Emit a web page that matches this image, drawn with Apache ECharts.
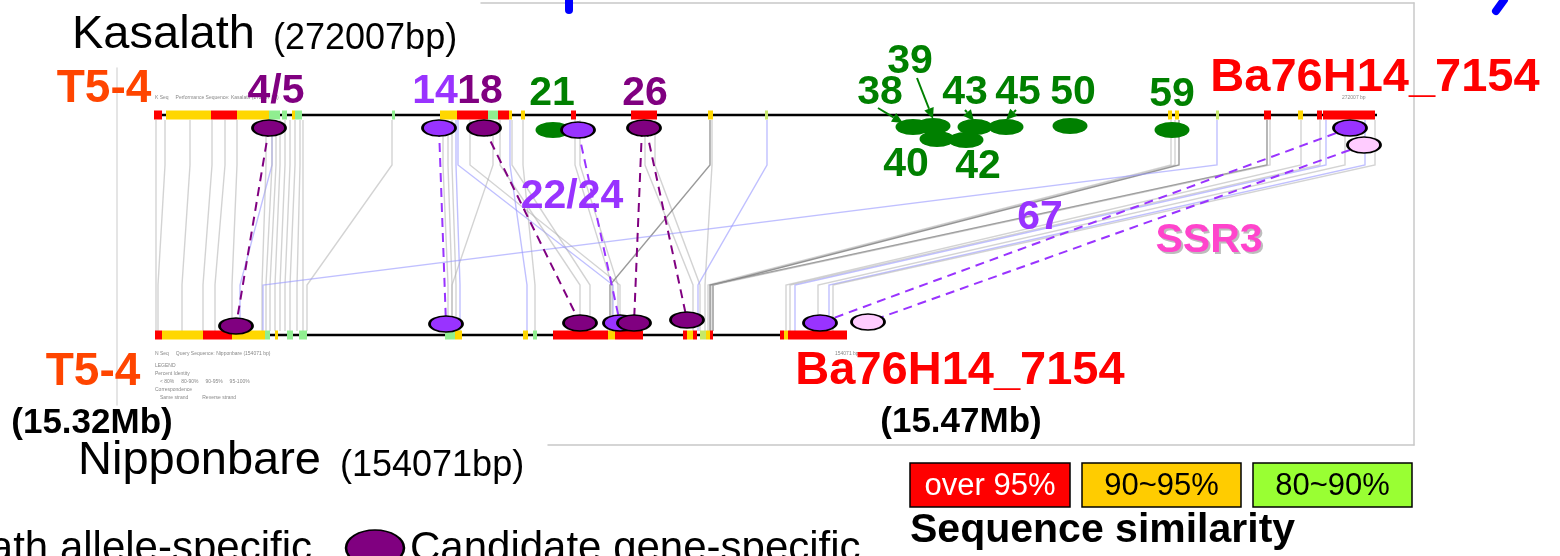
<!DOCTYPE html>
<html><head><meta charset="utf-8">
<script src="https://cdn.jsdelivr.net/npm/echarts@6/dist/echarts.min.js"></script>
<style>html,body{margin:0;padding:0;background:#fff}#c{width:1560px;height:556px}</style>
</head><body><div id="c"></div>
<script>
// ---------------- data (diagram positions along the sequences) ----------------
const trackSpans = [[154, 1377], [155, 847]];   // Kasalath (top), Nipponbare (bottom)
const trackRows = [115, 335];

// similarity blocks: [track, start, end, class]
const topSegments = [
  [0,154,162,'r'],[0,166,211,'y'],[0,211,237,'r'],[0,237,269,'y'],[0,269,280,'g'],[0,282,287,'g'],
  [0,292,295,'y'],[0,295,302,'g'],[0,392,395,'g'],[0,440,457,'y'],[0,457,488,'r'],[0,488,498,'g'],
  [0,498,509,'r'],[0,509,512,'y'],[0,521,525,'y'],[0,571,576,'r'],[0,631,657,'r'],[0,708,713,'y'],
  [0,765,768,'yg'],[0,1168,1172,'y'],[0,1175,1179,'y'],[0,1216,1219,'yg'],[0,1264,1271,'r'],
  [0,1298,1303,'y'],[0,1317,1322,'r'],[0,1323,1375,'r']
];
const bottomSegments = [
  [1,155,162,'r'],[1,162,203,'y'],[1,203,232,'r'],[1,232,265,'y'],[1,265,270,'g'],[1,275,278,'y'],
  [1,287,293,'g'],[1,299,307,'g'],[1,445,455,'g'],[1,455,462,'y'],[1,523,528,'y'],[1,533,537,'g'],
  [1,553,608,'r'],[1,608,615,'y'],[1,615,643,'r'],[1,683,687,'r'],[1,687,693,'y'],[1,693,697,'r'],
  [1,700,706,'yg'],[1,706,710,'y'],[1,710,713,'r'],[1,780,784,'r'],[1,784,788,'y'],[1,788,847,'r']
];

// correspondences: [position on Kasalath, position on Nipponbare, kind]
const alignments = [
  [156,156,'g'],[165,158,'g'],[190,182,'g'],[212,203,'g'],[225,215,'g'],[237,232,'g'],[272,240,'b'],
  [266,262,'g'],[272,266,'g'],[276,270,'g'],[280,275,'g'],[285,280,'g'],[290,285,'g'],[295,290,'g'],
  [300,297,'g'],[303,303,'g'],[392,307,'g'],[443,448,'g'],[448,452,'g'],[452,456,'g'],[456,460,'b'],
  [458,613,'b'],[470,620,'g'],[493,452,'g'],[500,580,'g'],[510,527,'b'],[523,535,'g'],[512,590,'g'],
  [575,612,'g'],[580,618,'g'],[645,693,'g'],[655,700,'g'],[710,610,'dg'],[712,705,'g'],[767,698,'b'],
  [1171,708,'g'],[1175,711,'g'],[1179,713,'dg'],[1217,263,'b'],[1267,710,'dg'],[1270,713,'g'],
  [1301,786,'g'],[1320,790,'g'],[1326,795,'b'],[1345,818,'g'],[1365,829,'b'],[1375,833,'g']
];

// markers: [position, row, type]
const topMarkers = [
  [269,128,'cand'],[439,128,'kas'],[484,128,'cand'],[553,130,'grn'],[578,130,'kas'],[644,128,'cand'],
  [913,127,'grn'],[933,126,'grn'],[937,139,'grn'],[966,140,'grn'],[975,127,'grn'],[1006,127,'grn'],
  [1070,126,'grn'],[1172,130,'grn'],[1350,128,'kas'],[1364,145,'ssr']
];
const bottomMarkers = [
  [236,326,'cand'],[446,324,'kas'],[580,323,'cand'],[620,323,'kas'],[634,323,'cand'],
  [687,320,'cand'],[820,323,'kas'],[868,322,'ssr']
];
const legendMarkers = [[375,548,'candBig']];

// marker links between the two sequences: [x1,y1,x2,y2,type]
const markerLinks = [
  [269,128,236,326,'cand'],[439,128,446,324,'kas'],[484,128,580,323,'cand'],[578,130,620,323,'kas'],
  [642,128,634,323,'cand'],[646,128,687,320,'cand'],[1350,128,820,323,'kas'],[1364,145,868,322,'kas']
];

const pointerArrows = [[878,108,903,123],[917,78,933,119],[965,110,974,121],[1016,110,1006,120]];

// texts: [text, x, y, style]
const labels = [
  ['Kasalath',72,35,'title'],['(272007bp)',273,39,'sub'],
  ['Nipponbare',78,461,'title'],['(154071bp)',340,466,'sub'],
  ['T5-4',104,89,'track'],['T5-4',93,372,'track'],
  ['Ba76H14_7154',1375,78,'clone'],['Ba76H14_7154',960,371,'clone'],
  ['(15.32Mb)',92,423,'mb'],['(15.47Mb)',961,422,'mb'],
  ['4/5',276,92,'cand'],['14',435,92,'kas'],['18',480,92,'cand'],['21',552,94,'grn'],['26',645,94,'cand'],
  ['38',880,93,'grn'],['39',910,62,'grn'],['43',965,93,'grn'],['45',1018,93,'grn'],['50',1073,93,'grn'],
  ['59',1172,95,'grn'],['40',906,165,'grn'],['42',978,167,'grn'],
  ['22/24',572,197,'kas'],['67',1040,218,'kas'],['SSR3',1209,241,'ssr'],
  ['Kasalath allele-specific',312,549,'legR'],['Candidate gene-specific',410,549,'leg'],
  ['Sequence similarity',910,531,'legB']
];
const tinyTexts = [
  ['K Seq     Performance Sequence: Kasalath (272007 bp)',155,98],['272007 bp',1342,98],
  ['N Seq     Query Sequence: Nipponbare (154071 bp)',155,354],['154071 bp',835,354],
  ['LEGEND',155,366],['Percent Identity',155,374],['< 80%     80-90%     90-95%     95-100%',160,382],
  ['Correspondence',155,390],['Same strand          Reverse strand',160,398]
];

const legendBoxes = [[910,1070,'over 95%','r'],[1082,1241,'90~95%','o'],[1253,1412,'80~90%','lg']];

const guideLines = [[481,3,1414,3,'frame'],[1414,3,1414,445,'frame'],[548,445,1414,445,'frame'],
  [117,68,117,405,'guide'],[569,0,569,10,'blue'],[1504,0,1496,11,'blue']];

// ---------------- styles ----------------
const FF = '"Liberation Sans", Arial, sans-serif';
const segColor = {r:'#FF0000', y:'#FFD700', g:'#90EE90', yg:'#C6E86A'};
const alignColor = {g:'rgba(175,175,175,0.55)', dg:'rgba(120,120,120,0.75)', b:'rgba(150,150,255,0.6)'};
const markerStyle = {
  cand:{color:'#800080', border:'#000', size:[33,16]},
  kas:{color:'#9933FF', border:'#000', size:[33,16]},
  grn:{color:'#008000', border:null, size:[35,16]},
  ssr:{color:'#FFCCFF', border:'#000', size:[33,16]},
  candBig:{color:'#800080', border:'#000', size:[58,36]}
};
const linkColor = {cand:'#800080', kas:'#9933FF'};
const textStyle = {
  title:{font:'47px '+FF, color:'#000', align:'left'},
  sub:{font:'36px '+FF, color:'#000', align:'left'},
  track:{font:'bold 46px '+FF, color:'#FF4500', align:'center'},
  clone:{font:'bold 47px '+FF, color:'#FF0000', align:'center'},
  mb:{font:'bold 35px '+FF, color:'#000', align:'center'},
  cand:{font:'bold 41px '+FF, color:'#800080', align:'center'},
  kas:{font:'bold 41px '+FF, color:'#9933FF', align:'center'},
  grn:{font:'bold 41px '+FF, color:'#008000', align:'center'},
  ssr:{font:'bold 41px '+FF, color:'#FF44CC', align:'center', shadow:'#BDBDBD'},
  leg:{font:'42px '+FF, color:'#000', align:'left'},
  legR:{font:'42px '+FF, color:'#000', align:'right'},
  legB:{font:'bold 41px '+FF, color:'#000', align:'left'}
};
const boxColor = {r:['#FF0000','#FFFFFF'], o:['#FFCC00','#000000'], lg:['#99FF33','#000000']};
const guideStyle = {frame:['#C8C8C8',1.5], guide:['#DDDDDD',1.5], blue:['#0000FF',8]};

// ---------------- chart ----------------
const chart = echarts.init(document.getElementById('c'), null, {width:1560, height:556});
const idx = arr => arr.map((d, i) => [i, 0]);

const series = [
  {type:'custom', name:'guides', data: idx(guideLines), z:1,
   renderItem:(p, api) => { const g = guideLines[p.dataIndex], s = guideStyle[g[4]];
     const a = api.coord([g[0], g[1]]), b = api.coord([g[2], g[3]]);
     return {type:'line', shape:{x1:a[0],y1:a[1],x2:b[0],y2:b[1]}, style:{stroke:s[0], lineWidth:s[1], lineCap:'round'}}; }},
  {type:'custom', name:'alignments', data: idx(alignments), z:2,
   renderItem:(p, api) => { const a = alignments[p.dataIndex];
     const pts = [api.coord([a[0],120]), api.coord([a[0],165]), api.coord([a[1],285]), api.coord([a[1],331])];
     return {type:'polyline', shape:{points:pts}, style:{stroke:alignColor[a[2]], lineWidth:1.4, fill:null}}; }},
  {type:'custom', name:'tracks', data: idx(trackSpans), z:3,
   renderItem:(p, api) => { const t = trackSpans[p.dataIndex], y = trackRows[p.dataIndex];
     const a = api.coord([t[0], y]), b = api.coord([t[1], y]);
     return {type:'line', shape:{x1:a[0],y1:a[1],x2:b[0],y2:b[1]}, style:{stroke:'#000', lineWidth:2.5}}; }},
  {type:'custom', name:'segments', data: idx(topSegments.concat(bottomSegments)), z:4,
   renderItem:(p, api) => { const s = topSegments.concat(bottomSegments)[p.dataIndex], y = trackRows[s[0]];
     const a = api.coord([s[1], y - 4.5]), b = api.coord([s[2], y + 4.5]);
     return {type:'rect', shape:{x:a[0], y:a[1], width:b[0]-a[0], height:b[1]-a[1]}, style:{fill:segColor[s[3]]}}; }},
  {type:'custom', name:'tiny', data: idx(tinyTexts), z:4,
   renderItem:(p, api) => { const t = tinyTexts[p.dataIndex], a = api.coord([t[1], t[2]]);
     return {type:'text', x:a[0], y:a[1], style:{text:t[0], font:'5px '+FF, fill:'#888', align:'left', verticalAlign:'middle'}}; }},
  {type:'custom', name:'links', data: idx(markerLinks), z:5,
   renderItem:(p, api) => { const l = markerLinks[p.dataIndex];
     const a = api.coord([l[0], l[1]]), b = api.coord([l[2], l[3]]);
     return {type:'line', shape:{x1:a[0],y1:a[1],x2:b[0],y2:b[1]}, style:{stroke:linkColor[l[4]], lineWidth:2, lineDash:[9,6]}}; }},
  {type:'scatter', name:'markers', z:6, silent:true,
   data: topMarkers.concat(bottomMarkers, legendMarkers).map(m => {
     const s = markerStyle[m[2]];
     return {value:[m[0], m[1]], symbol:'circle', symbolSize:s.size,
       itemStyle:{color:s.color, borderColor:s.border || s.color, borderWidth:s.border ? 2 : 0, opacity:1}};
   })},
  {type:'custom', name:'arrows', data: idx(pointerArrows), z:7,
   renderItem:(p, api) => { const r = pointerArrows[p.dataIndex];
     const a = api.coord([r[0], r[1]]), b = api.coord([r[2], r[3]]);
     const ang = Math.atan2(b[1]-a[1], b[0]-a[0]), L = 11, W = 5;
     const bx = b[0] - L*Math.cos(ang), by = b[1] - L*Math.sin(ang);
     const head = [[b[0], b[1]], [bx + W*Math.sin(ang), by - W*Math.cos(ang)], [bx - W*Math.sin(ang), by + W*Math.cos(ang)]];
     return {type:'group', children:[
       {type:'line', shape:{x1:a[0],y1:a[1],x2:bx,y2:by}, style:{stroke:'#008000', lineWidth:2}},
       {type:'polygon', shape:{points:head}, style:{fill:'#008000'}}]}; }},
  {type:'custom', name:'legendBoxes', data: idx(legendBoxes), z:7,
   renderItem:(p, api) => { const b = legendBoxes[p.dataIndex], c = boxColor[b[3]];
     const a = api.coord([b[0], 463]), e = api.coord([b[1], 507]);
     return {type:'group', children:[
       {type:'rect', shape:{x:a[0], y:a[1], width:e[0]-a[0], height:e[1]-a[1]}, style:{fill:c[0], stroke:'#000', lineWidth:1.5}},
       {type:'text', x:(a[0]+e[0])/2, y:(a[1]+e[1])/2 + 1, style:{text:b[2], font:'31px '+FF, fill:c[1], align:'center', verticalAlign:'middle'}}]}; }},
  {type:'custom', name:'labels', data: idx(labels), z:8,
   renderItem:(p, api) => { const t = labels[p.dataIndex], s = textStyle[t[3]], a = api.coord([t[1], t[2]]);
     const main = {type:'text', x:a[0], y:a[1], style:{text:t[0], font:s.font, fill:s.color, align:s.align, verticalAlign:'middle'}};
     if (!s.shadow) return main;
     return {type:'group', children:[
       {type:'text', x:a[0]+2, y:a[1]+2, style:{text:t[0], font:s.font, fill:s.shadow, align:s.align, verticalAlign:'middle'}}, main]}; }}
];

chart.setOption({
  animation:false,
  grid:{left:0, right:0, top:0, bottom:0},
  xAxis:{type:'value', min:0, max:1560, show:false},
  yAxis:{type:'value', min:0, max:556, inverse:true, show:false},
  series: series
});
</script></body></html>
